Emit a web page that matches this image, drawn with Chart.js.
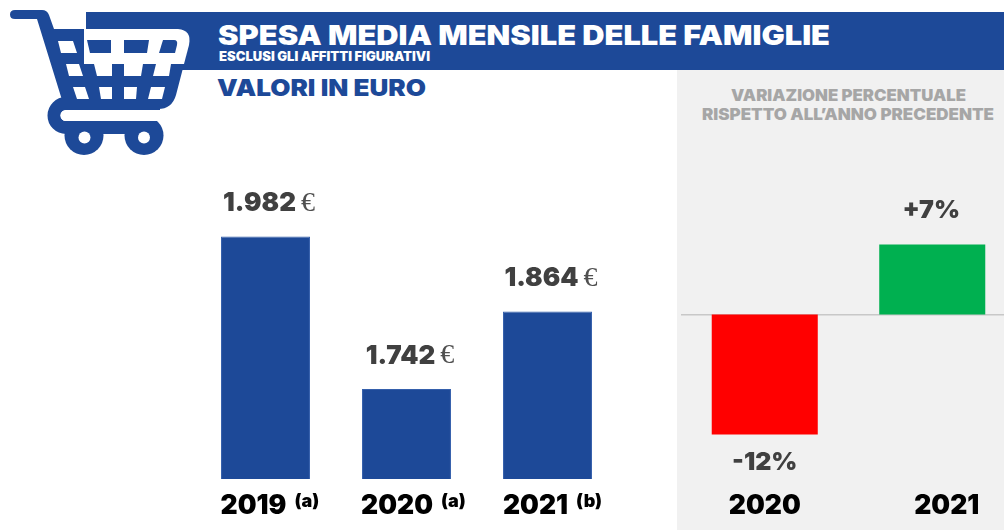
<!DOCTYPE html>
<html lang="it">
<head>
<meta charset="utf-8">
<title>Spesa media mensile delle famiglie</title>
<script src="https://cdn.jsdelivr.net/npm/chart.js@4"></script>
<style>
  html, body { margin: 0; padding: 0; background: #fff; }
  body { position: relative; width: 1004px; height: 530px; overflow: hidden; font-family: Inter, sans-serif; }
  #panel { position: absolute; left: 677px; top: 70px; width: 327px; height: 460px; background: #f1f1f1; }
  #art { position: absolute; left: 0; top: 0; }
  canvas { position: absolute; top: 130px; }
  #spendChart { left: 195px; }
  #changeChart { left: 681px; }
  text { font-family: Inter, sans-serif; font-weight: 900; }
</style>
</head>
<body>
<div id="panel"></div>
<svg id="art" width="1004" height="530" viewBox="0 0 1004 530">
  <rect x="86" y="12" width="918" height="58" fill="#1d4998"/>
  <!-- carrello -->
  <g fill="#1d4998">
    <path d="M15 10H42Q47 10 49 15L54 29H178Q192 30 189 45L176 95Q172 109 158 109H70L62 100L37 19H15Q10 19 10 14.500Q10 10 15 10Z"/>
    <circle cx="84" cy="135.500" r="19.500"/>
    <circle cx="144" cy="135.500" r="19.500"/>
  </g>
  <path d="M160 103.500H66A12 12 0 0 0 66 127.500H144" fill="none" stroke="#1d4998" stroke-width="13"/>
  <path d="M66 110H172V121H66A5.500 5.500 0 0 1 66 110Z" fill="#fff"/>
  <path d="M84 29H178Q192 30 189 45L184 64H84Z" fill="#fff"/>
  <g fill="#1d4998">
    <path d="M87 40H111V53H90Z"/>
    <path d="M124 40H149L147 53H124Z"/>
    <path d="M163 40H174Q178 40 177 45L175 53H159Z"/>
  </g>
  <g fill="#fff">
    <path d="M58 41H73L77 53H61Z"/>
    <path d="M66 64H79L83 76H69Z"/>
    <path d="M94 64H112V76H97Z"/>
    <path d="M124 64H143L141 76H124Z"/>
    <path d="M156 64H171L169 76H153Z"/>
    <path d="M73 87H85L89 99H77Z"/>
    <path d="M99 87H112V99H101Z"/>
    <path d="M124 87H137L136 99H124Z"/>
    <path d="M151 87H165L162 99H148Z"/>
    <circle cx="84.500" cy="137.500" r="6"/>
    <circle cx="144" cy="137.500" r="6"/>
  </g>
  <text x="218" y="45" font-size="27.500" fill="#fff" textLength="612" lengthAdjust="spacingAndGlyphs">SPESA MEDIA MENSILE DELLE FAMIGLIE</text>
  <text x="219" y="61" font-size="12.500" fill="#fff" textLength="211" lengthAdjust="spacingAndGlyphs">ESCLUSI GLI AFFITTI FIGURATIVI</text>
  <text x="217" y="95.500" font-size="23" fill="#1d4998" textLength="209" lengthAdjust="spacingAndGlyphs">VALORI IN EURO</text>
  <text x="731" y="100.500" font-size="16" fill="#a6a6a6" textLength="235" lengthAdjust="spacingAndGlyphs">VARIAZIONE PERCENTUALE</text>
  <text x="702" y="119.500" font-size="16" fill="#a6a6a6" textLength="292" lengthAdjust="spacingAndGlyphs">RISPETTO ALL’ANNO PRECEDENTE</text>
</svg>
<canvas id="spendChart" width="423" height="400"></canvas>
<canvas id="changeChart" width="335" height="400"></canvas>
<script>
const spendYears = ["2019", "2020", "2021"];
const spendNotes = ["(a)", "(a)", "(b)"];
const spendValues = [1982, 1742, 1864];

const changeYears = ["2020", "2021"];
const changeValues = [-12, 7];
const changeColors = ["#ff0000", "#00b050"];

const BOLD = "Inter, sans-serif";

function euroParts(value) {
  return [String(value).replace(/(\d)(\d{3})$/, "$1.$2"), "€"];
}

function percentText(value) {
  return (value > 0 ? "+" : "") + value + "%";
}

// year labels under the bars, with the optional note next to them
const yearLabels = {
  id: "yearLabels",
  afterDraw(chart, args, opts) {
    const { ctx, chartArea } = chart;
    const xScale = chart.scales.x;
    const y = chartArea.bottom + 27;
    ctx.save();
    ctx.textBaseline = "middle";
    ctx.fillStyle = "#000";
    opts.years.forEach((year, i) => {
      const x = xScale.getPixelForValue(i) + opts.shift[i];
      ctx.font = "900 26.5px " + BOLD;
      ctx.textAlign = "center";
      ctx.fillText(year, x, y);
      if (opts.notes) {
        const right = x + ctx.measureText(year).width / 2;
        ctx.font = "900 18px " + BOLD;
        ctx.textAlign = "left";
        ctx.fillText(opts.notes[i], right + 8, y - 4);
      }
    });
    ctx.restore();
  },
};

const euroLabels = {
  id: "euroLabels",
  afterDatasetsDraw(chart) {
    const { ctx } = chart;
    const bars = chart.getDatasetMeta(0).data;
    ctx.save();
    ctx.textBaseline = "middle";
    ctx.textAlign = "left";
    bars.forEach((bar, i) => {
      const [num, sign] = euroParts(spendValues[i]);
      ctx.font = "900 26px " + BOLD;
      const numWidth = ctx.measureText(num).width;
      const left = bar.x + 4 - (numWidth + 20) / 2;
      ctx.fillStyle = "#404040";
      ctx.fillText(num, left, bar.y - 33);
      ctx.font = "400 28px 'Liberation Serif', serif";
      ctx.fillStyle = "#505050";
      ctx.fillText(sign, left + numWidth + 5, bar.y - 33);
    });
    ctx.restore();
  },
};

const percentLabels = {
  id: "percentLabels",
  afterDatasetsDraw(chart) {
    const { ctx } = chart;
    const bars = chart.getDatasetMeta(0).data;
    ctx.save();
    ctx.textBaseline = "middle";
    ctx.textAlign = "center";
    ctx.font = "900 25px " + BOLD;
    ctx.fillStyle = "#404040";
    bars.forEach((bar, i) => {
      const offset = changeValues[i] < 0 ? 28 : -34;
      const shift = changeValues[i] < 0 ? 0 : -1;
      ctx.fillText(percentText(changeValues[i]), bar.x + shift, bar.y + offset);
    });
    ctx.restore();
  },
};

new Chart(document.getElementById("spendChart"), {
  type: "bar",
  data: {
    labels: spendYears,
    datasets: [
      {
        data: spendValues,
        backgroundColor: "#1d4998",
        borderColor: "#3560ac",
        borderWidth: 1,
        borderSkipped: false,
        barPercentage: 1,
        categoryPercentage: 0.631,
      },
    ],
  },
  options: {
    responsive: false,
    animation: false,
    layout: { padding: { bottom: 51 } },
    plugins: {
      legend: { display: false },
      tooltip: { enabled: false },
      yearLabels: { years: spendYears, notes: spendNotes, shift: [-12, -9.5, -12] },
    },
    scales: {
      x: { display: false },
      y: { display: false, min: 1600, max: 2150 },
    },
  },
  plugins: [yearLabels, euroLabels],
});

new Chart(document.getElementById("changeChart"), {
  type: "bar",
  data: {
    labels: changeYears,
    datasets: [
      {
        data: changeValues,
        backgroundColor: changeColors,
        barPercentage: 1,
        categoryPercentage: 0.633,
      },
    ],
  },
  options: {
    responsive: false,
    animation: false,
    layout: { padding: { bottom: 51 } },
    plugins: {
      legend: { display: false },
      tooltip: { enabled: false },
      yearLabels: { years: changeYears, shift: [0, 14.5] },
    },
    scales: {
      x: {
        position: { y: 0 },
        grid: { display: false, drawTicks: false },
        border: { color: "#c8c8c8", width: 1.5 },
        ticks: { display: false },
      },
      y: { display: false, min: -16.45, max: 18.45 },
    },
  },
  plugins: [yearLabels, percentLabels],
});
</script>
</body>
</html>
